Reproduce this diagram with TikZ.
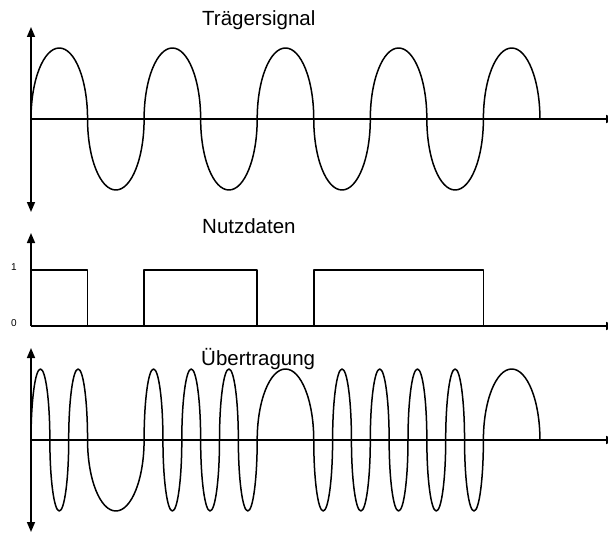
\documentclass[tikz,border=0pt]{standalone}
\usepackage{fontspec}
\setmainfont{Liberation Sans}
\usetikzlibrary{arrows.meta}

\begin{document}
\begin{tikzpicture}[x=1pt, y=1pt,
    axis/.style={line width=1.6pt, -{Triangle[width=8pt,length=10pt]}},
    wave/.style={line width=1.5pt, line join=round},
    title/.style={anchor=base west, font=\fontsize{20.5}{24}\selectfont, inner sep=0pt},
    level/.style={font=\fontsize{10}{12}\selectfont, inner sep=0pt}]
\useasboundingbox (0,0) rectangle (608,-535);
\clip (0,0) rectangle (608,-535);

% Traegersignal
\node[title] (carriertitle) at (202,-26) {Trägersignal};
\draw[axis, {Triangle[width=8pt,length=10pt]}-{Triangle[width=8pt,length=10pt]}] (31,-212) -- (31,-27);
\draw[axis] (31,-119) -- (616,-119);
\draw[wave] (31,-119) foreach \k in {1,...,9} {
    arc[start angle=180, end angle={mod(\k,2)==1 ? 0 : 360}, x radius=28.275, y radius=71]
};

% Nutzdaten
\node[title] (datatitle) at (202,-233) {Nutzdaten};
\node[level] (one) at (14,-267) {1};
\node[level] (zero) at (14,-323) {0};
\draw[axis] (31,-326) -- (31,-233);
\draw[axis] (31,-326) -- (616,-326);
\draw[wave] (31,-270) -- (87.6,-270) -- (87.6,-326)
    (144.1,-326) -- (144.1,-270) -- (257.2,-270) -- (257.2,-326)
    (313.8,-326) -- (313.8,-270) -- (483.5,-270) -- (483.5,-326);

% Uebertragung
\node[title] (fsktitle) at (201,-365) {Übertragung};
\draw[axis, {Triangle[width=8pt,length=10pt]}-{Triangle[width=8pt,length=10pt]}] (31,-532) -- (31,-348);
\draw[axis] (31,-440) -- (616,-440);
\draw[wave] (31,-440) foreach \f [count=\k, evaluate=\f as \r using \f*28.275] in
    {1/3,1/3,1/3,1,1/3,1/3,1/3,1/3,1/3,1/3,1,1/3,1/3,1/3,1/3,1/3,1/3,1/3,1/3,1/3,1} {
    arc[start angle=180, end angle={mod(\k,2)==1 ? 0 : 360}, x radius=\r, y radius=71]
};
\end{tikzpicture}
\end{document}
